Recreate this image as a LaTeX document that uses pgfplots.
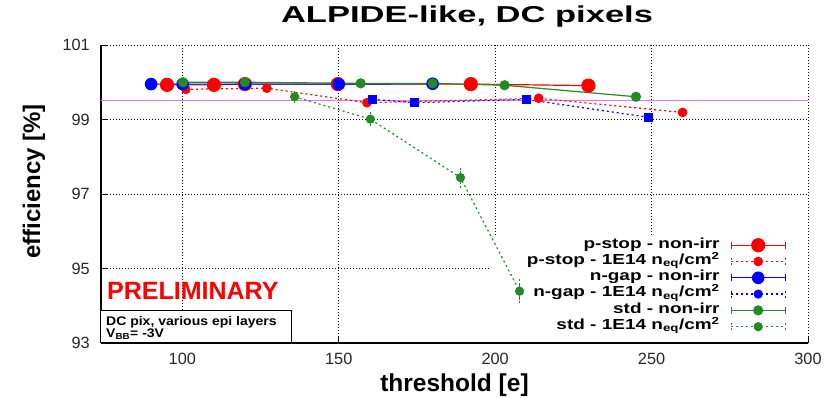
\documentclass[border=0pt]{standalone}
\usepackage{pgfplots}
\pgfplotsset{compat=1.18}
\usepackage{fontspec}
\setmainfont{Liberation Sans}
\newfontfamily\titlefont[FakeStretch=1.5]{Liberation Sans}
\newfontfamily\legfont[FakeStretch=1.3]{Liberation Sans}
\newfontfamily\infofont[FakeStretch=1.12]{Liberation Sans}
\definecolor{pred}{RGB}{255,0,0}
\definecolor{pblue}{RGB}{0,0,255}
\definecolor{pgreen}{RGB}{34,139,34}
\definecolor{pmag}{RGB}{238,110,238}
\begin{document}
\begin{tikzpicture}
\useasboundingbox (-101pt,-55pt) rectangle (729pt,343pt);
\begin{axis}[
  scale only axis, width=707pt, height=298pt,
  xmin=74, xmax=300, ymin=93, ymax=101,
  xtick={100,150,200,250,300}, ytick={93,95,97,99,101},
  axis lines=left, axis line style={-, line width=1.3pt, black},
  tick align=inside, major tick length=7pt, tick style={black, line width=0.8pt},
  grid=major, major grid style={black, line width=0.7pt, dash pattern=on 1pt off 2pt},
  /pgf/number format/assume math mode=true,
  ticklabel style={font=\fontsize{16.3}{18}\selectfont, color=black!85},
  yticklabel style={inner sep=0pt, xshift=-11pt},
  xticklabel style={inner sep=0pt, yshift=-10pt},
  title={\titlefont\bfseries ALPIDE-like, DC pixels},
  title style={at={(axis description cs:0.5177,1.0537)}, anchor=base, font=\fontsize{23}{26}\selectfont},
  xlabel={threshold [e]},
  xlabel style={at={(axis description cs:0.5,-0.143)}, anchor=center, font=\fontsize{24.5}{28}\selectfont\bfseries},
  ylabel={efficiency [\%]},
  ylabel style={at={(axis description cs:-0.0948,0.542)}, anchor=center, font=\fontsize{24}{28}\selectfont\bfseries},
  legend cell align=right, legend plot pos=right,
  legend style={at={(axis description cs:0.9689,0.3562)}, anchor=north east, draw=none, fill=none,
    inner sep=0pt, column sep=11pt, row sep=0pt,
    nodes={inner sep=0pt, text height=11pt, text depth=5.3pt},
    font={\fontsize{14.6}{16}\legfont\bfseries}},
  legend image code/.code={
    \draw[#1, mark=none] (0pt,0pt) -- (54pt,0pt);
    \draw[#1, mark=none] (0pt,-3.5pt) -- (0pt,3.5pt) (54pt,-3.5pt) -- (54pt,3.5pt);
    \draw[#1, mark=*] plot coordinates {(27pt,0pt)};
  },
]
\fill[white] (axis cs:198.2,93.04) rectangle (axis cs:299.8,95.85);
\addplot[pmag, line width=1.2pt, forget plot] coordinates {(74,99.5) (300,99.5)};

\addplot[pred, line width=1.2pt, mark=*, mark size=6.5pt, mark options={solid}] coordinates {
 (95.1,99.93) (110.1,99.93) (120.0,99.95) (149.7,99.95) (192.2,99.95) (229.8,99.91)};
\addlegendentry{p-stop - non-irr}

\addplot[pred, line width=1.2pt, dash pattern=on 2pt off 3pt, mark=*, mark size=4.2pt, mark options={solid}] coordinates {
 (101.1,99.81) (127,99.84) (159.0,99.45) (213.9,99.57) (259.9,99.19)};
\addlegendentry{p-stop - 1E14 n\textsubscript{eq}/cm\textsuperscript{2}}

\addplot[pblue, line width=1.2pt, mark=*, mark size=5.7pt, mark options={solid}] coordinates {
 (90.0,99.95) (100.1,99.95) (120,99.95) (150,99.95) (180,99.96)};
\addlegendentry{n-gap - non-irr}

\addplot[pblue, line width=1.2pt, dash pattern=on 2pt off 3pt, mark=square*, mark size=4pt, mark options={solid}] coordinates {
 (160.9,99.54) (174.2,99.45) (209.9,99.54) (249.0,99.06)};
\addlegendentry{n-gap - 1E14 n\textsubscript{eq}/cm\textsuperscript{2}}

\addplot[pgreen, line width=1.2pt, mark=*, mark size=4.5pt, mark options={solid}] coordinates {
 (100.2,100.0) (120,100.0) (157,99.97) (180,99.97) (203,99.92) (245,99.61)};
\addlegendentry{std - non-irr}

\addplot[pgreen, line width=1.2pt, dash pattern=on 2pt off 3pt, mark=*, mark size=4pt, mark options={solid},
  error bars/.cd, y dir=both, y explicit, error mark=-, error mark options={rotate=0, mark size=4.5pt, line width=1pt, pgreen, dash pattern=on 2pt off 1.5pt}] coordinates {
 (135.9,99.61) +- (0,0.04) (160.1,99.01) +- (0,0.06) (188.9,97.44) +- (0,0.15) (207.8,94.39) +- (0,0.2)};
\addlegendentry{std - 1E14 n\textsubscript{eq}/cm\textsuperscript{2}}

\node[anchor=base west, text=pred, font={\fontsize{25}{28}\selectfont\bfseries}, inner sep=0pt] at (axis cs:75.9,94.16) {PRELIMINARY};
\draw[black, line width=1pt, fill=white] (axis cs:74,93) rectangle (axis cs:135,93.88);
\node[anchor=north west, align=left, inner sep=0pt, font={\fontsize{12.5}{9.8}\infofont\bfseries}] at (axis cs:75.6,93.73) {DC pix, various epi layers\\V\textsubscript{BB}= -3V};
\end{axis}
\end{tikzpicture}
\end{document}
